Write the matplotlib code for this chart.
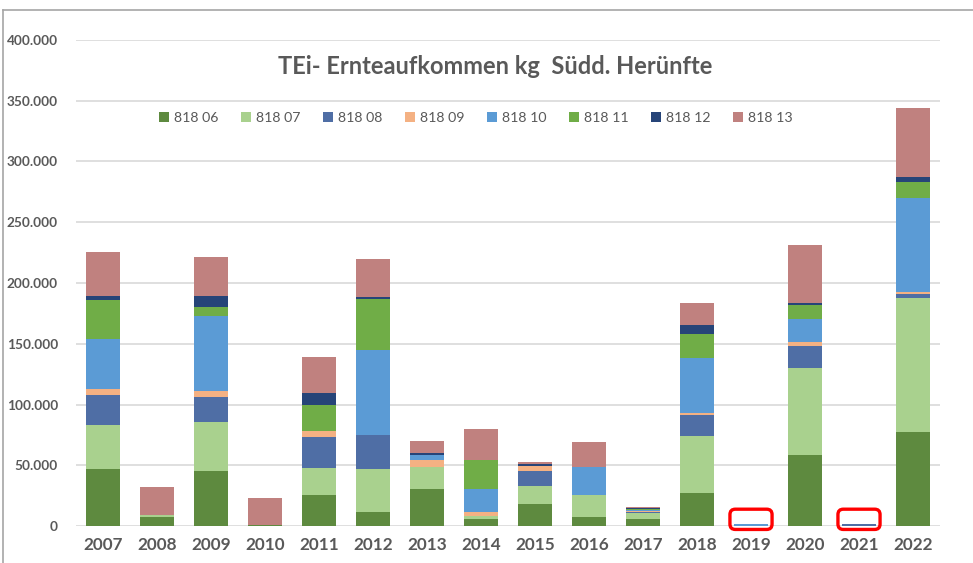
import numpy as np
import matplotlib
matplotlib.use("Agg")
import matplotlib.pyplot as plt
from matplotlib.patches import FancyBboxPatch
from matplotlib.lines import Line2D
from matplotlib.ticker import FuncFormatter

# ---------------------------------------------------------------------------
# Data (kg per year)
# ---------------------------------------------------------------------------
years = ["2007", "2008", "2009", "2010", "2011", "2012", "2013", "2014",
         "2015", "2016", "2017", "2018", "2019", "2020", "2021", "2022"]

s06 = [47000, 7700, 45000, 1000, 25500, 11300, 30400, 5500, 18100, 7400, 5500, 27400, 0, 58200, 0, 77600]
s07 = [36000, 1600, 40300, 0, 22200, 35400, 18200, 3000, 15100, 18100, 5000, 46900, 0, 72100, 0, 110300]
s08 = [24500, 0, 21100, 0, 25800, 28200, 0, 0, 11800, 0, 1000, 17100, 0, 18100, 1500, 2800]
s09 = [5500, 0, 4600, 0, 5000, 0, 5700, 2800, 4100, 0, 500, 1300, 0, 2800, 0, 2100]
s10 = [40500, 0, 61800, 0, 0, 69900, 3900, 19100, 0, 23100, 800, 45300, 1500, 18900, 0, 77200]
s11 = [32500, 0, 7700, 0, 21100, 42000, 0, 23900, 0, 0, 1200, 20000, 0, 12000, 0, 13100]
s12 = [3000, 0, 8800, 0, 9600, 1400, 2100, 0, 1900, 0, 800, 7200, 0, 1700, 0, 3900]
s13 = [36700, 23000, 31700, 22000, 29600, 31500, 9400, 25300, 1400, 20500, 600, 18100, 0, 47500, 0, 56800]

series_names = ["818 06", "818 07", "818 08", "818 09", "818 10", "818 11", "818 12", "818 13"]
series_vals = [s06, s07, s08, s09, s10, s11, s12, s13]
colors = ["#5E8A3F", "#A9D18E", "#4F6EA5", "#F4B183", "#5B9BD5", "#70AD47", "#264478", "#C0817F"]

# years marked with red boxes (no harvest)
marked_years = ["2019", "2021"]

# ---------------------------------------------------------------------------
# Figure
# ---------------------------------------------------------------------------
W, H = 973, 563
plt.rcParams["font.family"] = ["Lato", "DejaVu Sans"]
fig = plt.figure(figsize=(W / 100, H / 100), dpi=100)

ax_left, ax_right, ax_bottom, ax_top = 76, 940, 526, 40
ax = fig.add_axes([ax_left / W, 1 - ax_bottom / H,
                   (ax_right - ax_left) / W, (ax_bottom - ax_top) / H])

x = np.arange(len(years))
bottom = np.zeros(len(years))
handles = []
for name, vals, col in zip(series_names, series_vals, colors):
    vals = np.array(vals, dtype=float)
    b = ax.bar(x, vals, 0.63, bottom=bottom, color=col, edgecolor="none",
               linewidth=0, label=name, zorder=3)
    handles.append(b)
    bottom += vals

ax.set_xlim(-0.5, len(years) - 0.5)
ax.set_ylim(0, 400000)
ax.set_yticks(np.arange(0, 400001, 50000))
ax.yaxis.set_major_formatter(FuncFormatter(lambda v, p: f"{v:,.0f}".replace(",", ".")))
ax.set_xticks(x)
ax.set_xticklabels(years)
ax.grid(axis="y", color="#D9D9D9", linewidth=1.2, zorder=0)
ax.set_axisbelow(True)
for s in ax.spines.values():
    s.set_visible(False)
ax.tick_params(axis="both", length=0)
ax.tick_params(axis="y", pad=13, labelsize=9.8, labelcolor="#595959")
ax.tick_params(axis="x", pad=8, labelsize=12.3, labelcolor="#595959")
for lbl in ax.get_yticklabels() + ax.get_xticklabels():
    lbl.set_fontweight("bold")

# red rounded boxes around the empty years
px_x = 1.0 / 54.0                      # data units per pixel (x)
px_y = 400000.0 / (ax_bottom - ax_top)  # data units per pixel (y)
for yr in marked_years:
    i = years.index(yr)
    box = FancyBboxPatch((i - 0.36, -1500), 0.72, 14000,
                         boxstyle="round,pad=0.03,rounding_size=0.1",
                         mutation_aspect=px_y / px_x,
                         facecolor="none", edgecolor="#FF0000", linewidth=2.4,
                         clip_on=False, zorder=5)
    ax.add_patch(box)

# title and legend
fig.text(495 / W, 1 - 66 / H, "TEi- Ernteaufkommen kg  Südd. Herünfte",
         ha="center", va="center", fontsize=17, fontweight="bold", color="#595959")
fig.legend(handles=handles, labels=series_names, loc="center", ncol=8,
           bbox_to_anchor=(476 / W, 1 - 118 / H), frameon=False,
           fontsize=10.2, labelcolor="#595959", handlelength=0.7, handleheight=0.7,
           handletextpad=0.35, columnspacing=1.6)

# chart frame (top and left edges visible)
fig.add_artist(Line2D([3 / W, 1], [1 - 10 / H, 1 - 10 / H], color="#A6A6A6", linewidth=1.2))
fig.add_artist(Line2D([3 / W, 3 / W], [0, 1 - 10 / H], color="#A6A6A6", linewidth=1.2))

fig.savefig("out.png", dpi=100)
